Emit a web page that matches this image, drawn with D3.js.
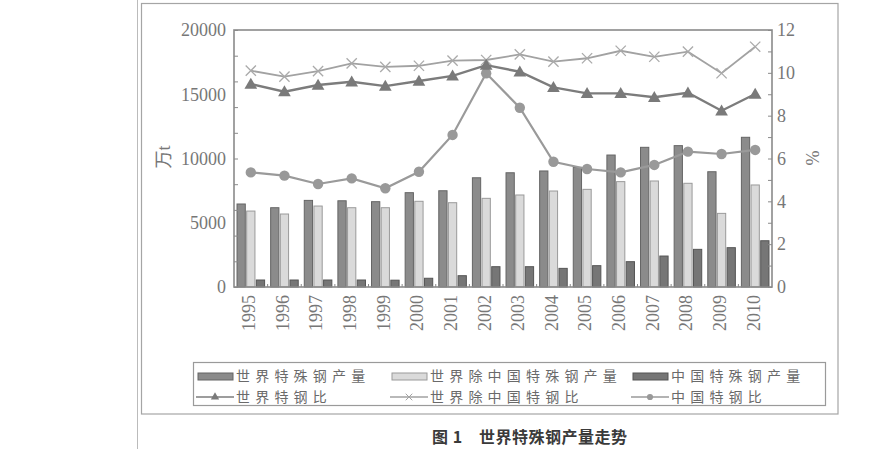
<!DOCTYPE html>
<html>
<head>
<meta charset="utf-8">
<script src="https://cdn.jsdelivr.net/npm/d3@7"></script>
<style>
  body { margin: 0; background: #fff; }
  svg { display: block; }
</style>
</head>
<body>
<div id="chart"></div>
<script>
const width = 893;
const height = 449;

// data
const years = ["1995", "1996", "1997", "1998", "1999", "2000", "2001", "2002",
               "2003", "2004", "2005", "2006", "2007", "2008", "2009", "2010"];
const worldOutput   = [6460, 6170, 6740, 6710, 6640, 7340, 7490, 8500, 8890, 9030, 9310, 10270, 10870, 11000, 8970, 11650];
const exChinaOutput = [5910, 5680, 6300, 6170, 6170, 6670, 6560, 6900, 7160, 7470, 7600, 8200, 8250, 8070, 5730, 7940];
const chinaOutput   = [545, 545, 545, 545, 530, 680, 880, 1580, 1580, 1450, 1660, 1970, 2410, 2930, 3060, 3600];
const worldRatio    = [9.48, 9.12, 9.43, 9.58, 9.38, 9.62, 9.86, 10.36, 10.05, 9.32, 9.04, 9.04, 8.86, 9.07, 8.23, 9.01];
const exChinaRatio  = [10.1, 9.82, 10.08, 10.44, 10.28, 10.33, 10.57, 10.6, 10.86, 10.52, 10.68, 11.03, 10.75, 10.99, 9.98, 11.22];
const chinaRatio    = [5.35, 5.2, 4.81, 5.07, 4.61, 5.38, 7.1, 9.98, 8.37, 5.85, 5.51, 5.35, 5.7, 6.32, 6.21, 6.4];
const leftTicks  = [0, 5000, 10000, 15000, 20000];
const rightTicks = [0, 2, 4, 6, 8, 10, 12];
const barNames  = ["世界特殊钢产量", "世界除中国特殊钢产量", "中国特殊钢产量"];
const lineNames = ["世界特钢比", "世界除中国特钢比", "中国特钢比"];
const caption = "图 1\u3000世界特殊钢产量走势";

const plot = {left: 234, right: 772, top: 30, bottom: 287};
const barFill   = ["#8b8b8b", "#dadada", "#767676"];
const barStroke = ["#656565", "#9a9a9a", "#555"];

const svg = d3.select("#chart").append("svg")
    .attr("width", width)
    .attr("height", height)
    .attr("viewBox", [0, 0, width, height]);

// cadre de la page
svg.append("line")
    .attr("x1", 137.5).attr("x2", 137.5).attr("y1", 0).attr("y2", height)
    .attr("stroke", "#bbb");
svg.append("rect")
    .attr("x", 141.5).attr("y", 3.5)
    .attr("width", 838 - 141.5).attr("height", 414 - 3.5)
    .attr("fill", "none").attr("stroke", "#a5a5a5").attr("stroke-width", 1.2);

const x = d3.scaleBand().domain(years)
    .range([plot.left, plot.right])
    .paddingInner(0.15).paddingOuter(0.075);
const xs = d3.scaleBand().domain([0, 1, 2])
    .range([0, x.bandwidth()]).paddingInner(0.04);
const yL = d3.scaleLinear().domain([0, 20000]).range([plot.bottom, plot.top]);
const yR = d3.scaleLinear().domain([0, 12]).range([plot.bottom, plot.top]);

// barres
const barSeries = [worldOutput, exChinaOutput, chinaOutput];
barSeries.forEach((vals, s) => {
    svg.append("g").selectAll("rect")
        .data(vals)
        .join("rect")
        .attr("x", (d, i) => x(years[i]) + xs(s) + 0.5)
        .attr("y", d => yL(d))
        .attr("width", xs.bandwidth() - 1)
        .attr("height", d => yL(0) - yL(d))
        .attr("fill", barFill[s])
        .attr("stroke", barStroke[s])
        .attr("stroke-width", 1);
});

// lignes
const cx = (d, i) => x(years[i]) + x.bandwidth() / 2;
const line = d3.line().x(cx).y(d => yR(d));
const crossSym = d3.symbolX || d3.symbolCross;

svg.append("path").datum(exChinaRatio)
    .attr("d", line).attr("fill", "none")
    .attr("stroke", "#a2a2a2").attr("stroke-width", 1.8);
svg.append("g").selectAll("path")
    .data(exChinaRatio).join("path")
    .attr("d", d3.symbol(crossSym, 70))
    .attr("transform", (d, i) => `translate(${cx(d, i)},${yR(d)})`)
    .attr("fill", "none").attr("stroke", "#aaa").attr("stroke-width", 1.3);

svg.append("path").datum(chinaRatio)
    .attr("d", line).attr("fill", "none")
    .attr("stroke", "#9a9a9a").attr("stroke-width", 2.2);
svg.append("g").selectAll("circle")
    .data(chinaRatio).join("circle")
    .attr("cx", cx).attr("cy", d => yR(d)).attr("r", 5.2)
    .attr("fill", "#999");

svg.append("path").datum(worldRatio)
    .attr("d", line).attr("fill", "none")
    .attr("stroke", "#7c7c7c").attr("stroke-width", 2.4);
svg.append("g").selectAll("path")
    .data(worldRatio).join("path")
    .attr("d", d3.symbol(d3.symbolTriangle, 70))
    .attr("transform", (d, i) => `translate(${cx(d, i)},${yR(d) + 1})`)
    .attr("fill", "#7a7a7a");

// cadre du graphique
svg.append("rect")
    .attr("x", plot.left).attr("y", plot.top)
    .attr("width", plot.right - plot.left).attr("height", plot.bottom - plot.top)
    .attr("fill", "none").attr("stroke", "#8a8a8a").attr("stroke-width", 1.6);

// axes
const tickFont = g => g.selectAll("text")
    .attr("fill", "#777")
    .style("font-family", "'Liberation Serif', serif")
    .style("font-size", "18px");

svg.append("g")
    .attr("transform", `translate(${plot.left},0)`)
    .call(d3.axisLeft(yL).tickValues(leftTicks).tickSize(0).tickPadding(8).tickFormat(d3.format("d")))
    .call(g => g.select(".domain").remove())
    .call(tickFont);
svg.append("g")
    .attr("transform", `translate(${plot.left},0)`)
    .call(d3.axisRight(yL).ticks(8).tickSize(4).tickFormat(""))
    .call(g => g.select(".domain").remove())
    .call(g => g.selectAll("line").attr("stroke", "#8a8a8a"));

svg.append("g")
    .attr("transform", `translate(${plot.right},0)`)
    .call(d3.axisRight(yR).tickValues(rightTicks).tickSize(0).tickPadding(5))
    .call(g => g.select(".domain").remove())
    .call(tickFont);
svg.append("g")
    .attr("transform", `translate(${plot.right},0)`)
    .call(d3.axisLeft(yR).ticks(12).tickSize(4).tickFormat(""))
    .call(g => g.select(".domain").remove())
    .call(g => g.selectAll("line").attr("stroke", "#8a8a8a"));

const xAxis = svg.append("g")
    .attr("transform", `translate(0,${plot.bottom})`)
    .call(d3.axisBottom(x).tickSize(0).tickPadding(6))
    .call(g => g.select(".domain").remove())
    .call(tickFont);
xAxis.selectAll("text")
    .attr("text-anchor", "end")
    .attr("transform", "translate(-2,0) rotate(-90)")
    .attr("dx", "-8")
    .attr("dy", "0.35em")
    .attr("y", 0);
svg.append("g").selectAll("line")
    .data(years.slice(1)).join("line")
    .attr("x1", d => x(d) - x.step() * 0.075).attr("x2", d => x(d) - x.step() * 0.075)
    .attr("y1", plot.bottom).attr("y2", plot.bottom - 3)
    .attr("stroke", "#8a8a8a");

// titres des axes
svg.append("text")
    .attr("transform", "translate(170,157) rotate(-90)")
    .attr("text-anchor", "middle")
    .style("font-family", "'Liberation Serif', 'Noto Sans CJK SC', serif")
    .style("font-size", "18px")
    .attr("fill", "#777")
    .text("万t");
svg.append("text")
    .attr("transform", "translate(806,158) rotate(90)")
    .attr("text-anchor", "middle")
    .style("font-family", "'Liberation Serif', serif")
    .style("font-size", "18px")
    .attr("fill", "#777")
    .text("%");

// légende
const legend = svg.append("g");
legend.append("rect")
    .attr("x", 193.5).attr("y", 362.5).attr("width", 632).attr("height", 43)
    .attr("fill", "none").attr("stroke", "#9a9a9a").attr("stroke-width", 1.2);

const legendX = [198, 392, 633];
const rowY = [376.5, 397];
const legendFont = sel => sel
    .style("font-family", "'Noto Sans CJK SC', sans-serif")
    .style("font-size", "14px")
    .style("letter-spacing", "5.2px")
    .attr("fill", "#6a6a6a");

barNames.forEach((name, s) => {
    legend.append("rect")
        .attr("x", legendX[s]).attr("y", rowY[0] - 3.5)
        .attr("width", 35).attr("height", 7)
        .attr("fill", barFill[s]).attr("stroke", barStroke[s]);
    legend.append("text")
        .attr("x", legendX[s] + 38).attr("y", rowY[0])
        .attr("dy", "0.35em")
        .call(legendFont)
        .text(name);
});

const lineStyle = [
    {stroke: "#7c7c7c", sym: d3.symbolTriangle, fill: "#7a7a7a"},
    {stroke: "#a2a2a2", sym: crossSym, fill: "none"},
    {stroke: "#9a9a9a", sym: d3.symbolCircle, fill: "#999"}
];
lineNames.forEach((name, s) => {
    const x0 = legendX[s] - 2;
    legend.append("line")
        .attr("x1", x0).attr("x2", x0 + 38).attr("y1", rowY[1]).attr("y2", rowY[1])
        .attr("stroke", lineStyle[s].stroke).attr("stroke-width", 1.6);
    legend.append("path")
        .attr("d", d3.symbol(lineStyle[s].sym, 30))
        .attr("transform", `translate(${x0 + 19},${rowY[1]})`)
        .attr("fill", lineStyle[s].fill)
        .attr("stroke", lineStyle[s].fill === "none" ? lineStyle[s].stroke : "none");
    legend.append("text")
        .attr("x", legendX[s] + 38).attr("y", rowY[1])
        .attr("dy", "0.35em")
        .call(legendFont)
        .text(name);
});

// légende de la figure
svg.append("text")
    .attr("x", 432).attr("y", 437)
    .attr("dy", "0.35em")
    .style("font-family", "'Noto Sans CJK SC', sans-serif")
    .style("font-size", "16px")
    .style("font-weight", "bold")
    .style("letter-spacing", "0.5px")
    .attr("fill", "#3a3a3a")
    .text(caption);
</script>
</body>
</html>
